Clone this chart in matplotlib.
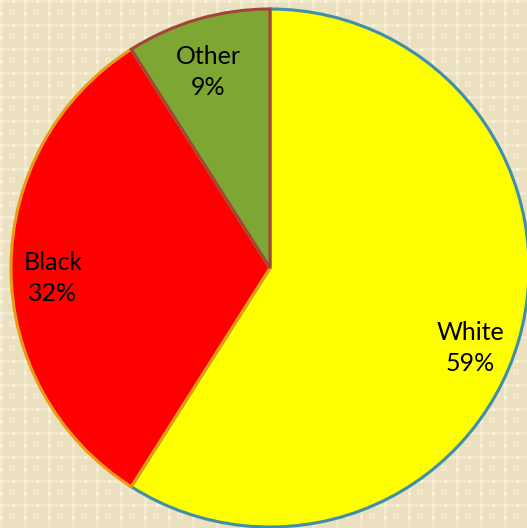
import numpy as np
import matplotlib.pyplot as plt

# Data
categories = ['White', 'Black', 'Other']
shares = [59, 32, 9]
fill_colors = ['#FFFF00', '#FF0000', '#7EA632']
edge_colors = ['#3F8FA6', '#E89A10', '#A2463A']

W, H = 527, 528
fig = plt.figure(figsize=(W / 100, H / 100), dpi=100)
ax = fig.add_axes([0, 0, 1, 1])

# patterned beige background (tiled)
tile = np.zeros((24, 24, 3))
base = np.array([234, 223, 190]) / 255
light = np.array([241, 232, 204]) / 255
bright = np.array([250, 241, 214]) / 255
tile[:] = base
tile[0:3, :] = light
tile[:, 0:3] = light
tile[0:3, 0:3] = bright
tile[9:15, 9:15] = light
tile[11:13, 11:13] = base
tile[0:3, 12:15] = bright
tile[12:15, 0:3] = bright
bg = np.tile(tile, (H // 24 + 2, W // 24 + 2, 1))[:H, :W]
ax.imshow(bg, extent=[0, W, 0, H], origin='upper', zorder=0)

labels = [f'{c}\n{v}%' for c, v in zip(categories, shares)]
wedges, texts = ax.pie(shares, labels=labels, colors=fill_colors, startangle=90,
                       counterclock=False, center=(270, 260), radius=259,
                       labeldistance=0.81, frame=True,
                       textprops=dict(fontsize=18, family='Lato', color='black',
                                      ha='center', va='center', linespacing=1.45))
for w, ec in zip(wedges, edge_colors):
    w.set_edgecolor(ec)
    w.set_linewidth(2.2)
    w.set_zorder(2)

# label centres as placed in the original slide
label_xy = [(470, 348), (53, 278), (208, 72)]
for t, (x, y) in zip(texts, label_xy):
    t.set_position((x, H - y))
    t.set_zorder(3)

ax.set_xlim(0, W)
ax.set_ylim(0, H)
ax.set_aspect('auto')
ax.axis('off')

fig.savefig('out.png', dpi=100)
